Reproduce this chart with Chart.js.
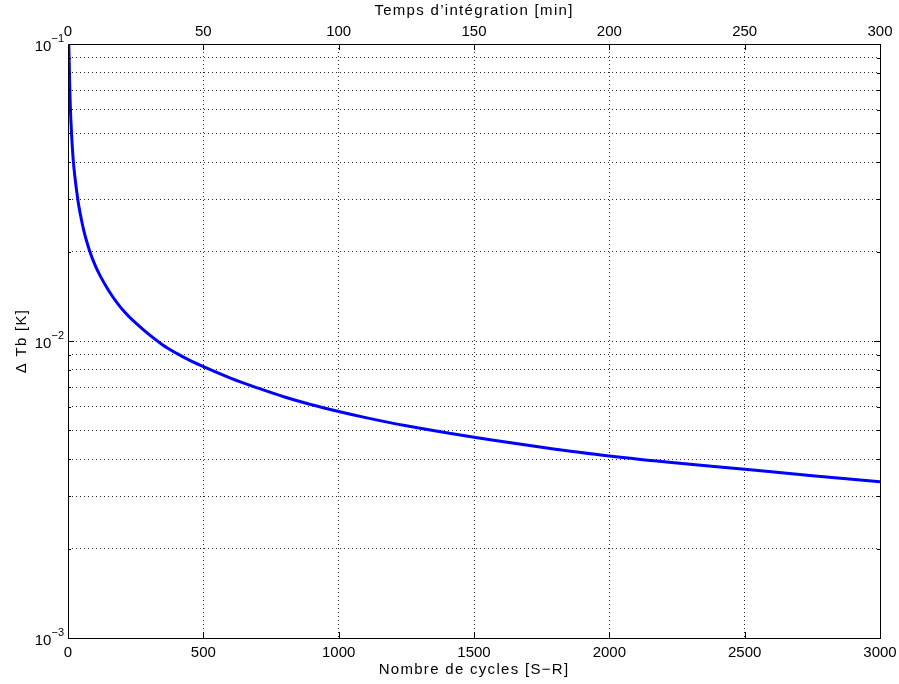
<!DOCTYPE html>
<html>
<head>
<meta charset="utf-8">
<script src="https://cdn.jsdelivr.net/npm/chart.js@4"></script>
<style>
    html, body { margin: 0; padding: 0; background: #fff; }
</style>
</head>
<body>
<canvas id="lineChart" width="899" height="684"></canvas>
<script>
// Data
const nCycles = [3, 6, 8, 10, 13, 16, 20, 25, 30, 35, 40, 50, 60, 70, 80, 100, 120, 150, 180, 210, 250,
    300, 350, 400, 450, 500, 600, 700, 800, 900, 1000, 1100, 1250, 1500, 1750, 2000, 2250, 2500, 2750, 3000];
const deltaTb = [0.1, 0.075, 0.064, 0.057, 0.05, 0.045, 0.04, 0.036, 0.033, 0.0305, 0.0285, 0.0255, 0.0232, 0.0215, 0.0201, 0.018, 0.0165, 0.0148, 0.0135, 0.0125, 0.0115,
    0.0105, 0.0097, 0.0091, 0.0086, 0.0082, 0.0075, 0.00695, 0.00648, 0.0061, 0.00579, 0.00552, 0.00518, 0.00474, 0.00439, 0.0041, 0.00388, 0.0037, 0.00352, 0.00336];
const yTickValues = [0.001, 0.002, 0.003, 0.004, 0.005, 0.006, 0.007, 0.008, 0.009,
    0.01, 0.02, 0.03, 0.04, 0.05, 0.06, 0.07, 0.08, 0.09, 0.1];
const yMajorExps = [-3, -2, -1];
const xTitle = 'Nombre de cycles [S\u2212R]';
const x2Title = 'Temps d\u2019int\u00e9gration [min]';
const yTitle = '\u0394 Tb [K]';

const FONT = '"Liberation Sans", Arial, Helvetica, sans-serif';
const gridColor = 'rgba(0,0,0,0.85)';

const matlabBox = {
    id: 'matlabBox',
    afterDraw(chart) {
        const { ctx, chartArea: a, scales } = chart;
        ctx.save();
        ctx.strokeStyle = '#000';
        ctx.lineWidth = 1;
        ctx.setLineDash([]);
        ctx.strokeRect(a.left + 0.5, a.top + 0.5, a.right - a.left, a.bottom - a.top);

        // inward ticks
        ctx.beginPath();
        scales.x.ticks.forEach(t => {
            const px = Math.round(scales.x.getPixelForValue(t.value)) + 0.5;
            ctx.moveTo(px, a.bottom); ctx.lineTo(px, a.bottom - 6);
            ctx.moveTo(px, a.top); ctx.lineTo(px, a.top + 6);
        });
        scales.y.ticks.forEach(t => {
            const py = Math.round(scales.y.getPixelForValue(t.value)) + 0.5;
            const major = yMajorExps.some(e => Math.abs(t.value - Math.pow(10, e)) < 1e-12);
            const len = major ? 6 : 3;
            ctx.moveTo(a.left, py); ctx.lineTo(a.left + len, py);
            ctx.moveTo(a.right, py); ctx.lineTo(a.right - len, py);
        });
        ctx.stroke();

        // y tick labels 10^n
        ctx.fillStyle = '#000';
        ctx.textBaseline = 'alphabetic';
        ctx.textAlign = 'left';
        yMajorExps.forEach(e => {
            const py = scales.y.getPixelForValue(Math.pow(10, e));
            const sup = '\u2212' + Math.abs(e);
            ctx.font = '11px ' + FONT;
            const ws = ctx.measureText(sup).width;
            ctx.font = '15px ' + FONT;
            const wb = ctx.measureText('10').width;
            const right = a.left - 4;
            ctx.fillText('10', right - ws - wb, py + 7);
            ctx.font = '11px ' + FONT;
            ctx.fillText(sup, right - ws, py - 2);
        });

        // axis titles
        const cx = (a.left + a.right) / 2;
        ctx.font = '15px ' + FONT;
        ctx.letterSpacing = '1.3px';
        ctx.textAlign = 'center';
        ctx.fillText(xTitle, cx, 674);
        ctx.fillText(x2Title, cx, 15);
        ctx.translate(26, (a.top + a.bottom) / 2);
        ctx.rotate(-Math.PI / 2);
        ctx.fillText(yTitle, 0, 0);
        ctx.restore();
    }
};

const noPad = s => { s.paddingLeft = 0; s.paddingRight = 0; s.paddingTop = 0; s.paddingBottom = 0; };

const ctx = document.getElementById('lineChart').getContext('2d');
const lineChart = new Chart(ctx, {
    type: 'line',
    data: {
        datasets: [{
            data: nCycles.map((n, i) => ({ x: n, y: deltaTb[i] })),
            borderColor: '#0000ff',
            borderWidth: 3,
            pointRadius: 0,
            fill: false,
            cubicInterpolationMode: 'monotone'
        }]
    },
    options: {
        responsive: false,
        animation: false,
        layout: { padding: { left: 0, right: 19, top: 0, bottom: 0 } },
        plugins: { legend: { display: false }, tooltip: { enabled: false } },
        scales: {
            x: {
                type: 'linear',
                position: 'bottom',
                min: 0,
                max: 3000,
                ticks: { stepSize: 500, color: '#000', padding: 6, maxRotation: 0, font: { family: FONT, size: 15 }, callback: v => String(v) },
                grid: { color: gridColor, lineWidth: 1, drawTicks: false },
                border: { display: false, dash: [1, 3] },
                afterFit: s => { s.height = 46; noPad(s); }
            },
            x2: {
                type: 'linear',
                position: 'top',
                min: 0,
                max: 300,
                ticks: { stepSize: 50, color: '#000', padding: 3, maxRotation: 0, font: { family: FONT, size: 15 }, callback: v => String(v) },
                grid: { display: false, drawTicks: false },
                border: { display: false },
                afterFit: s => { s.height = 44; noPad(s); }
            },
            y: {
                type: 'logarithmic',
                min: 0.001,
                max: 0.1,
                ticks: { display: false },
                grid: { color: gridColor, lineWidth: 1, drawTicks: false },
                border: { display: false, dash: [1, 3] },
                afterBuildTicks: s => { s.ticks = yTickValues.map(v => ({ value: v })); },
                afterFit: s => { s.width = 68; noPad(s); }
            }
        }
    },
    plugins: [matlabBox]
});
</script>
</body>
</html>
